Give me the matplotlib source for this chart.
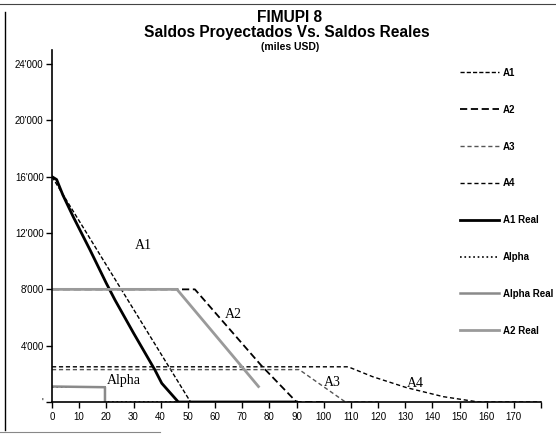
import matplotlib
matplotlib.use("Agg")
import matplotlib.pyplot as plt
from matplotlib.lines import Line2D

plt.rcParams['font.family'] = ['Liberation Sans', 'DejaVu Sans']

# ---- data ----
a1_x = [0, 51, 60]
a1_y = [16000, 0, 0]
a2_x = [0, 52.6, 77, 90, 100]
a2_y = [8000, 8000, 2600, 0, 0]
a3_x = [0, 91, 108, 120]
a3_y = [2300, 2300, 0, 0]
a4_x = [0, 109, 118, 130.5, 144, 157, 180]
a4_y = [2500, 2500, 1800, 1020, 380, 0, 0]
a1r_x = [0, 1.7, 4, 7.8, 10.9, 14, 20, 23.2, 30, 37.9, 40.4, 46.5, 90]
a1r_y = [16000, 15800, 14700, 13160, 11980, 10800, 8430, 7240, 4900, 2270, 1330, 0, 0]
alpha_x = [0, 19.5, 19.5, 60]
alpha_y = [1100, 1100, 0, 0]
alphar_x = [0, 19.5, 19.5]
alphar_y = [1100, 1050, 0]
a2r_x = [0, 46, 76]
a2r_y = [8000, 8000, 1100]

yticks = [0, 4000, 8000, 12000, 16000, 20000, 24000]
ytick_labels = ["'", "4'000", "8'000", "12'000", "16'000", "20'000", "24'000"]
xticks = list(range(0, 181, 10))
xtick_labels = [str(v) for v in range(0, 171, 10)] + [""]

annotations = [("A1", 33.5, 11150), ("A2", 66.6, 6250), ("A3", 103, 1370),
               ("A4", 133.6, 1330), ("Alpha", 26.3, 1560)]

fig = plt.figure(figsize=(5.56, 4.40), dpi=100)
ax = fig.add_axes([52/556, 1-402/440, (541-52)/556, (402-50)/440])

ax.plot(a1_x, a1_y, color='black', lw=1.0, dashes=(3, 1.5), label='A1')
ax.plot(a2_x, a2_y, color='black', lw=1.3, dashes=(4, 2), label='A2')
ax.plot(a3_x, a3_y, color='#555555', lw=1.0, dashes=(3, 2), label='A3')
ax.plot(a4_x, a4_y, color='black', lw=1.0, dashes=(3, 2), label='A4')
ax.plot(a1r_x, a1r_y, color='black', lw=2.0, label='A1 Real')
ax.plot(alpha_x, alpha_y, color='black', lw=1.2, ls=':', label='Alpha')
ax.plot(alphar_x, alphar_y, color='#8a8a8a', lw=1.8, label='Alpha Real')
ax.plot(a2r_x, a2r_y, color='#9a9a9a', lw=2.0, label='A2 Real')

for txt, x, y in annotations:
    ax.text(x, y, txt, family=['Liberation Serif', 'DejaVu Serif'], fontsize=10,
            ha='center', va='center')

ax.set_xlim(0, 180)
ax.set_ylim(0, 25000)
ax.set_xticks(xticks)
ax.set_xticklabels(xtick_labels, fontsize=7)
ax.set_yticks(yticks)
ax.set_yticklabels(ytick_labels, fontsize=7)
ax.tick_params(axis='both', direction='out', length=4, width=1)
ax.tick_params(axis='y', pad=2)
ax.tick_params(axis='x', pad=3)
for s in ['top', 'right']:
    ax.spines[s].set_visible(False)
for s in ['left', 'bottom']:
    ax.spines[s].set_linewidth(1.2)

leg = ax.legend(loc='upper left', bbox_to_anchor=(455/556, 1-63/440),
                bbox_transform=fig.transFigure, frameon=False,
                prop={'size': 7, 'weight': 'bold'}, handlelength=4.0,
                handletextpad=0.4, labelspacing=2.76, borderpad=0)

fig.text(290/556, 1-17/440, 'FIMUPI 8', ha='center', va='center',
         fontsize=11.2, fontweight='bold')
fig.text(287/556, 1-33/440, 'Saldos Proyectados Vs. Saldos Reales', ha='center',
         va='center', fontsize=11.2, fontweight='bold')
fig.text(290/556, 1-47/440, '(miles USD)', ha='center', va='center',
         fontsize=7.5, fontweight='bold')

# scanned frame lines
fig.add_artist(Line2D([5/556, 5/556], [1-12/440, 1-430/440], color='black', lw=1.0,
                      transform=fig.transFigure))
fig.add_artist(Line2D([0, 1], [1-4/440, 1-4/440], color='#444444', lw=0.8,
                      transform=fig.transFigure))
fig.add_artist(Line2D([0, 160/556], [1-432/440, 1-432/440], color='#888888', lw=0.8,
                      transform=fig.transFigure))

fig.savefig('out.png', dpi=100)
